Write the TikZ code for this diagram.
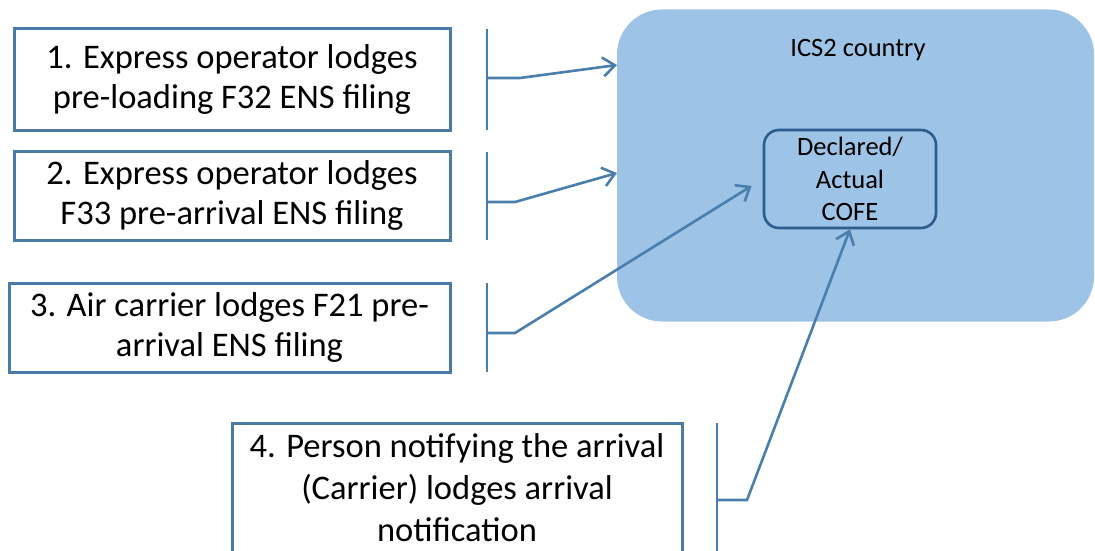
\documentclass[tikz,border=0pt]{standalone}
\usepackage{fontspec}
\setmainfont{Carlito}
\usetikzlibrary{arrows.meta,calc,positioning}

\definecolor{boxline}{HTML}{4A7BA7}
\definecolor{linkblue}{HTML}{4A7EAC}
\definecolor{icsfill}{HTML}{9DC3E6}
\definecolor{cofeline}{HTML}{2C5C8C}

\begin{document}
\begin{tikzpicture}[x=1pt, y=-1pt,
  lodge/.style={draw=boxline, line width=3pt, fill=white, align=center,
    inner sep=0pt, font=\fontsize{34.5}{40}\selectfont},
  bracket/.style={draw=linkblue, line width=2.6pt},
  link/.style={bracket, -{Straight Barb[length=12pt,width=19pt]}}]

\clip (0,0) rectangle (1095,551);

% ICS2 country
\node[fill=icsfill, rounded corners=45pt, minimum width=477pt,
  minimum height=312pt] (ics) at (855.5,165.5) {};
\node[anchor=base, font=\fontsize{26.5}{32}\selectfont] (icstitle) at (858,57) {ICS2 country};
\node[draw=cofeline, line width=2.6pt, rounded corners=15pt, minimum width=172pt,
  minimum height=98pt, inner sep=0pt, align=center,
  font=\fontsize{26.5}{32.5}\selectfont] (cofe) at (850,179) {Declared/\\Actual\\COFE};

% filings
\node[lodge, minimum width=436pt, minimum height=101pt] (f1) at (232,79.5)
  {1. Express operator lodges\\pre-loading F32 ENS filing};
\node[lodge, minimum width=436pt, minimum height=89pt] (f2) at (232,195.5)
  {2. Express operator lodges\\F33 pre-arrival ENS filing};
\node[lodge, minimum width=441pt, minimum height=89pt] (f3) at (229.5,327.5)
  {3. Air carrier lodges F21 pre-\\arrival ENS filing};
\node[lodge, minimum width=450pt, minimum height=130pt,
  font=\fontsize{34.5}{42}\selectfont] (f4) at (457,488)
  {4. Person notifying the arrival\\(Carrier) lodges arrival\\notification};

% brackets
\coordinate (b1t) at (487,29);  \coordinate (b1b) at (487,130);
\coordinate (b2t) at (487,152); \coordinate (b2b) at (487,240);
\coordinate (b3t) at (487,283); \coordinate (b3b) at (487,372);
\coordinate (b4t) at (717,423); \coordinate (b4b) at (717,565);
\coordinate (b1) at (487,78);  \coordinate (k1) at (520,78);
\coordinate (b2) at (487,202); \coordinate (k2) at (515,202);
\coordinate (b3) at (487,333); \coordinate (k3) at (515,333);
\coordinate (b4) at (717,500); \coordinate (k4) at (747,500);
\coordinate (e1) at (617,65);
\coordinate (e2) at (617,173);

\draw[bracket] (b1t) -- (b1b);
\draw[bracket] (b2t) -- (b2b);
\draw[bracket] (b3t) -- (b3b);
\draw[bracket] (b4t) -- (b4b);

\draw[link] (b1) -- (k1) -- (e1);
\draw[link] (b2) -- (k2) -- (e2);
\draw[link, shorten >=13pt] (b3) -- (k3) -- (cofe.west);
\draw[link] (b4) -- (k4) -- (cofe.south);

\end{tikzpicture}
\end{document}
